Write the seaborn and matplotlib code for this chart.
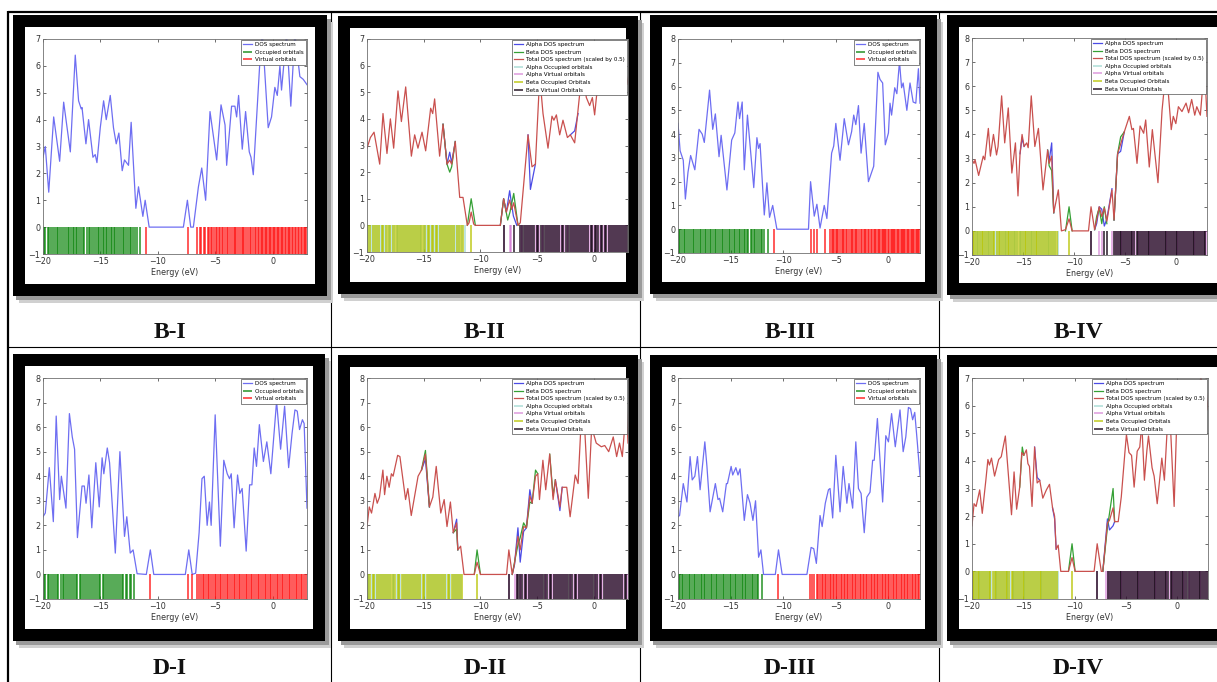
import matplotlib
matplotlib.use("Agg")
import matplotlib.pyplot as plt
from matplotlib.patches import Rectangle
from matplotlib.lines import Line2D
import pandas as pd
import seaborn as sns

W, H = 1217, 682

# ---------------- data ----------------
# B-I
bi_dos = [(-20.0, 2.6), (-19.8, 3.0), (-19.5, 1.3), (-19.07, 4.1), (-18.55, 2.45), (-18.2, 4.65), (-17.62, 2.8),
          (-17.19, 6.4), (-16.9, 4.7), (-16.67, 4.4), (-16.6, 4.45), (-16.26, 3.1), (-16.03, 4.0), (-15.65, 2.6),
          (-15.45, 2.7), (-15.3, 2.4), (-15.01, 3.7), (-14.72, 4.7), (-14.49, 4.0), (-14.14, 4.9), (-13.86, 3.7),
          (-13.62, 3.1), (-13.39, 3.5), (-13.1, 2.1), (-12.9, 2.5), (-12.55, 2.3), (-12.32, 3.9), (-11.91, 0.7),
          (-11.68, 1.5), (-11.3, 0.4), (-11.1, 1.0), (-10.75, 0.0), (-7.77, 0.0), (-7.42, 1.0), (-7.13, 0.0),
          (-6.9, 0.0), (-6.46, 1.5), (-6.17, 2.2), (-5.83, 1.0), (-5.45, 4.3), (-4.87, 2.5), (-4.49, 4.55),
          (-4.14, 3.8), (-4.0, 2.3), (-3.57, 4.5), (-3.28, 4.5), (-3.13, 4.1), (-2.96, 4.9), (-2.64, 2.9),
          (-2.35, 4.3), (-2.03, 2.8), (-1.88, 2.6), (-1.68, 1.95), (-1.1, 6.2), (-0.9, 7.3), (-0.38, 3.7),
          (-0.09, 4.1), (0.2, 5.2), (0.41, 4.9), (0.64, 6.0), (0.78, 5.1), (1.22, 7.2), (1.59, 4.5), (1.94, 7.2),
          (2.38, 5.6), (2.67, 5.5), (3.0, 5.3)]
bi_occ = [-19.95, -19.8, -19.6, -19.45, -19.3, -19.15, -18.95, -18.8, -18.7, -18.5, -18.35, -18.2, -18.0, -17.85,
          -17.7, -17.55, -17.4, -17.3, -17.15, -17.0, -16.9, -16.7, -16.55, -16.4, -16.2, -16.0, -15.9, -15.75,
          -15.6, -15.4, -15.25, -15.1, -14.95, -14.8, -14.7, -14.55, -14.4, -14.25, -14.1, -14.0, -13.85, -13.7,
          -13.55, -13.4, -13.2, -13.05, -12.9, -12.75, -12.6, -12.45, -12.3, -12.15, -11.95, -11.8, -11.55]
bi_virt = [-11.05, -7.4, -6.55, -6.35, -6.2, -6.0, -5.85, -5.65, -5.5, -5.4, -5.25, -5.1, -4.95, -4.8, -4.7, -4.55,
           -4.4, -4.3, -4.15, -4.0, -3.85, -3.7, -3.55, -3.4, -3.3, -3.15, -3.0, -2.85, -2.7, -2.55, -2.45, -2.3,
           -2.15, -2.0, -1.85, -1.7, -1.55, -1.4, -1.3, -1.2, -1.05, -0.95, -0.85, -0.7, -0.6, -0.5, -0.35, -0.25,
           -0.1, 0.0, 0.15, 0.25, 0.35, 0.5, 0.6, 0.75, 0.85, 0.95, 1.1, 1.2, 1.35, 1.45, 1.55, 1.7, 1.8, 1.95,
           2.05, 2.2, 2.3, 2.45, 2.55, 2.7, 2.8, 2.95]

# B-II
bii_total = [(-20.0, 2.9), (-19.7, 3.3), (-19.38, 3.5), (-18.88, 2.3), (-18.59, 4.2), (-18.24, 2.7), (-17.94, 4.0),
             (-17.65, 2.9), (-17.27, 5.05), (-16.97, 3.9), (-16.59, 5.2), (-16.09, 2.6), (-15.8, 3.4), (-15.51, 2.9),
             (-15.15, 3.5), (-14.83, 2.8), (-14.39, 4.4), (-14.21, 4.2), (-14.04, 4.75), (-13.6, 2.6), (-13.3, 3.8),
             (-12.95, 2.3), (-12.71, 2.45), (-12.54, 2.3), (-12.22, 3.15), (-11.83, 1.05), (-11.54, 1.05),
             (-11.16, 0.0), (-11.0, 0.1), (-10.82, 0.5), (-10.6, 0.05), (-10.45, 0.0), (-8.25, 0.0), (-7.96, 1.0),
             (-7.72, 0.5), (-7.43, 0.95), (-7.25, 0.6), (-7.07, 0.85), (-6.69, 0.0), (-6.49, 0.1), (-5.81, 3.4),
             (-5.46, 2.2), (-5.16, 2.3), (-4.78, 5.6), (-4.49, 4.2), (-4.05, 2.9), (-3.7, 4.1), (-3.53, 3.95),
             (-3.31, 4.15), (-3.02, 3.4), (-2.73, 3.95), (-2.34, 3.3), (-2.08, 3.4), (-1.7, 3.1), (-1.05, 5.8),
             (-0.67, 4.8), (-0.38, 4.5), (-0.14, 4.8), (0.06, 4.15), (0.5, 6.0), (1.09, 5.6), (1.68, 6.2),
             (2.12, 5.5), (2.56, 6.3), (3.0, 5.3)]
bii_alpha = [[(-13.3, 3.8), (-12.95, 2.3), (-12.71, 2.75), (-12.54, 2.35), (-12.22, 3.15)],
             [(-8.25, 0.0), (-7.96, 1.0), (-7.72, 0.5), (-7.43, 1.3), (-7.1, 0.35), (-6.8, 0.0)],
             [(-5.81, 3.4), (-5.6, 1.35), (-5.16, 2.3)],
             [(-2.08, 3.4), (-1.7, 3.55), (-1.4, 4.2)]]
bii_beta = [[(-13.3, 3.8), (-12.95, 2.3), (-12.71, 2.0), (-12.54, 2.2), (-12.22, 3.15)],
            [(-11.16, 0.0), (-10.82, 1.0), (-10.45, 0.0)],
            [(-8.25, 0.0), (-7.96, 1.0), (-7.6, 0.2), (-7.4, 0.5), (-7.07, 1.2), (-6.69, 0.0)]]
bii_a_occ = [-19.9, -19.7, -19.55, -19.35, -19.2, -19.0, -18.85, -18.65, -18.5, -18.3, -18.1, -17.95, -17.8, -17.6,
             -17.4, -17.3, -17.1, -16.95, -16.75, -16.6, -16.4, -16.2, -16.05, -15.9, -15.7, -15.5, -15.35, -15.2,
             -15.0, -14.85, -14.7, -14.5, -14.35, -14.2, -14.0, -13.85, -13.65, -13.5, -13.3, -13.15, -12.95, -12.8,
             -12.6, -12.4, -12.25, -12.05, -11.85, -11.6, -11.35]
bii_b_occ = [-19.95, -19.75, -19.5, -19.3, -19.1, -18.9, -18.7, -18.55, -18.35, -18.15, -17.95, -17.75, -17.55,
             -17.4, -17.2, -17.0, -16.85, -16.65, -16.5, -16.3, -16.1, -15.95, -15.75, -15.55, -15.4, -15.2, -15.05,
             -14.85, -14.65, -14.5, -14.3, -14.15, -13.95, -13.8, -13.6, -13.4, -13.25, -13.05, -12.85, -12.7, -12.5,
             -12.3, -12.1, -11.9, -11.7, -11.5, -10.82]
bii_a_virt = [-7.96, -7.43, -7.3, -6.45, -6.3, -6.1, -5.9, -5.75, -5.55, -5.35, -5.15, -5.0, -4.8, -4.6, -4.45,
              -4.25, -4.05, -3.9, -3.7, -3.5, -3.35, -3.15, -2.95, -2.8, -2.6, -2.4, -2.25, -2.05, -1.85, -1.7, -1.5,
              -1.3, -1.15, -0.95, -0.8, -0.6, -0.4, -0.25, -0.05, 0.1, 0.3, 0.5, 0.65, 0.85, 1.0, 1.2, 1.4, 1.55,
              1.75, 1.9, 2.1, 2.3, 2.45, 2.65, 2.85]
bii_b_virt = [-7.96, -7.07, -6.55, -6.35, -6.2, -6.0, -5.8, -5.6, -5.45, -5.25, -5.05, -4.9, -4.7, -4.5, -4.35,
              -4.15, -3.95, -3.8, -3.6, -3.4, -3.25, -3.05, -2.85, -2.7, -2.5, -2.3, -2.15, -1.95, -1.75, -1.6, -1.4,
              -1.2, -1.05, -0.85, -0.7, -0.5, -0.3, -0.15, 0.05, 0.2, 0.4, 0.6, 0.75, 0.95, 1.1, 1.3, 1.5, 1.65,
              1.85, 2.0, 2.2, 2.4, 2.55, 2.75, 2.95]

# B-III
biii_dos = [(-20.0, 4.45), (-19.8, 3.3), (-19.5, 2.9), (-19.3, 1.27), (-19.05, 2.4), (-18.8, 3.1), (-18.4, 2.5),
            (-18.0, 4.2), (-17.7, 4.0), (-17.5, 3.65), (-17.0, 5.85), (-16.7, 4.2), (-16.45, 4.85), (-16.1, 3.05),
            (-15.9, 3.95), (-15.35, 1.65), (-14.9, 3.75), (-14.6, 4.05), (-14.3, 5.35), (-14.15, 4.65),
            (-13.9, 5.35), (-13.7, 2.5), (-13.4, 4.8), (-12.8, 1.75), (-12.5, 3.85), (-12.35, 3.4), (-12.2, 3.6),
            (-11.8, 0.6), (-11.55, 1.95), (-11.3, 0.5), (-11.0, 1.0), (-10.6, 0.0), (-7.6, 0.0), (-7.4, 2.0),
            (-7.05, 0.55), (-6.8, 1.05), (-6.5, 0.05), (-6.1, 1.0), (-5.85, 0.45), (-5.4, 3.2), (-5.2, 3.5),
            (-5.0, 4.45), (-4.6, 2.9), (-4.2, 4.65), (-3.8, 3.55), (-3.5, 4.1), (-3.3, 4.8), (-3.1, 4.4),
            (-2.85, 5.2), (-2.6, 3.2), (-2.3, 4.45), (-1.9, 2.0), (-1.4, 2.65), (-1.0, 6.6), (-0.8, 6.3),
            (-0.55, 6.15), (-0.3, 3.55), (0.0, 4.05), (0.15, 5.3), (0.3, 4.8), (0.6, 5.95), (0.8, 5.7),
            (1.05, 7.05), (1.25, 5.95), (1.4, 6.15), (1.75, 5.0), (2.05, 6.15), (2.35, 5.35), (2.6, 5.3),
            (2.85, 6.75), (3.0, 5.3)]
biii_occ = [-19.95, -19.8, -19.65, -19.45, -19.3, -19.1, -18.95, -18.8, -18.6, -18.45, -18.3, -18.1, -17.95, -17.8,
            -17.65, -17.45, -17.3, -17.15, -17.0, -16.85, -16.65, -16.5, -16.35, -16.2, -16.0, -15.85, -15.7, -15.5,
            -15.35, -15.2, -15.05, -14.9, -14.7, -14.55, -14.4, -14.25, -14.1, -13.9, -13.75, -13.6, -13.45, -13.3,
            -13.1, -12.95, -12.8, -12.65, -12.5, -12.3, -12.15, -12.0, -11.8, -11.4]
biii_virt = [-10.9, -7.4, -7.1, -6.8, -6.0, -5.55, -5.4, -5.3, -5.15, -5.0, -4.85, -4.75, -4.6, -4.45, -4.3, -4.2,
             -4.05, -3.9, -3.75, -3.6, -3.5, -3.35, -3.2, -3.05, -2.95, -2.8, -2.65, -2.5, -2.35, -2.25, -2.1, -1.95,
             -1.8, -1.7, -1.55, -1.4, -1.25, -1.15, -1.0, -0.9, -0.8, -0.65, -0.55, -0.45, -0.3, -0.2, -0.05, 0.05,
             0.2, 0.3, 0.4, 0.55, 0.65, 0.8, 0.9, 1.0, 1.15, 1.25, 1.4, 1.5, 1.6, 1.75, 1.85, 2.0, 2.1, 2.2, 2.35,
             2.45, 2.6, 2.7, 2.85, 2.95]

# B-IV
biv_total = [(-20.0, 2.95), (-19.8, 2.8), (-19.7, 2.95), (-19.35, 2.3), (-18.9, 3.1), (-18.75, 2.95), (-18.4, 4.25),
             (-18.2, 3.1), (-17.9, 4.0), (-17.6, 3.15), (-17.45, 3.5), (-17.1, 5.6), (-16.8, 3.65), (-16.45, 5.1),
             (-16.1, 2.4), (-15.75, 3.65), (-15.5, 1.45), (-15.3, 3.2), (-15.1, 4.0), (-14.9, 3.5), (-14.65, 3.65),
             (-14.5, 3.45), (-14.2, 5.6), (-13.85, 3.5), (-13.5, 4.25), (-13.05, 1.7), (-12.6, 3.35), (-12.45, 2.8),
             (-12.2, 3.1), (-12.0, 0.75), (-11.55, 1.7), (-11.25, 0.0), (-10.85, 0.05), (-10.5, 0.5), (-10.2, 0.0),
             (-8.6, 0.0), (-8.35, 1.0), (-8.0, 0.05), (-7.8, 0.45), (-7.55, 1.0), (-7.3, 0.6), (-7.05, 0.95),
             (-6.8, 0.4), (-6.3, 1.7), (-6.1, 0.45), (-5.75, 3.2), (-5.45, 3.6), (-5.1, 4.1), (-4.6, 4.75),
             (-4.35, 4.2), (-4.2, 4.25), (-3.85, 2.8), (-3.55, 4.35), (-3.2, 4.05), (-3.0, 4.6), (-2.65, 2.65),
             (-2.35, 4.2), (-1.8, 2.0), (-1.4, 5.0), (-1.1, 6.3), (-0.8, 5.8), (-0.5, 4.2), (-0.3, 4.75),
             (-0.05, 4.45), (0.2, 5.15), (0.55, 4.95), (0.95, 5.3), (1.2, 4.9), (1.5, 5.45), (1.8, 4.8), (2.0, 5.15),
             (2.35, 4.8), (2.75, 6.9), (3.0, 4.75)]
biv_alpha = [[(-15.3, 3.2), (-15.1, 3.85), (-14.9, 3.5)],
             [(-12.6, 3.35), (-12.45, 2.9), (-12.2, 3.65), (-12.0, 0.75)],
             [(-8.0, 0.05), (-7.8, 0.3), (-7.55, 1.0), (-7.3, 0.9), (-7.05, 0.2), (-6.8, 0.5), (-6.3, 1.75)],
             [(-6.1, 0.45), (-5.75, 3.2), (-5.45, 3.3), (-5.1, 4.1)]]
biv_beta = [[(-12.6, 3.35), (-12.45, 2.7), (-12.2, 2.5), (-12.0, 0.75)],
            [(-10.85, 0.0), (-10.5, 1.0), (-10.2, 0.0)],
            [(-8.0, 0.05), (-7.8, 0.6), (-7.55, 0.95), (-7.3, 0.3), (-7.05, 1.0), (-6.8, 0.3)],
            [(-6.1, 0.45), (-5.75, 3.2), (-5.45, 3.9), (-5.1, 4.1)]]
biv_a_occ = [-19.9, -19.75, -19.55, -19.4, -19.2, -19.0, -18.85, -18.65, -18.45, -18.3, -18.1, -17.9, -17.75,
             -17.55, -17.35, -17.2, -17.0, -16.8, -16.65, -16.45, -16.3, -16.1, -15.9, -15.75, -15.55, -15.35, -15.2,
             -15.0, -14.8, -14.65, -14.45, -14.25, -14.1, -13.9, -13.7, -13.55, -13.35, -13.15, -13.0, -12.8, -12.6,
             -12.45, -12.25, -12.05, -11.85, -11.6]
biv_b_occ = [-19.95, -19.8, -19.6, -19.45, -19.25, -19.05, -18.9, -18.7, -18.5, -18.35, -18.15, -17.95, -17.8,
             -17.6, -17.4, -17.25, -17.05, -16.85, -16.7, -16.5, -16.35, -16.15, -15.95, -15.8, -15.6, -15.4, -15.25,
             -15.05, -14.85, -14.7, -14.5, -14.3, -14.15, -13.95, -13.75, -13.6, -13.4, -13.2, -13.05, -12.85,
             -12.65, -12.5, -12.3, -12.1, -11.9, -11.65, -10.5]
biv_a_virt = [-8.35, -7.55, -7.3, -6.3, -6.0, -5.85, -5.65, -5.45, -5.3, -5.1, -4.9, -4.75, -4.55, -4.35, -4.2,
              -4.0, -3.8, -3.65, -3.45, -3.25, -3.1, -2.9, -2.7, -2.55, -2.35, -2.15, -2.0, -1.8, -1.6, -1.45, -1.25,
              -1.05, -0.9, -0.7, -0.5, -0.35, -0.15, 0.05, 0.2, 0.4, 0.6, 0.75, 0.95, 1.15, 1.3, 1.5, 1.7, 1.85,
              2.05, 2.25, 2.4, 2.6, 2.8, 2.95]
biv_b_virt = [-8.35, -7.05, -6.8, -6.1, -5.95, -5.75, -5.55, -5.4, -5.2, -5.0, -4.85, -4.65, -4.45, -4.3, -4.1,
              -3.9, -3.75, -3.55, -3.35, -3.2, -3.0, -2.8, -2.65, -2.45, -2.25, -2.1, -1.9, -1.7, -1.55, -1.35,
              -1.15, -1.0, -0.8, -0.6, -0.45, -0.25, -0.05, 0.1, 0.3, 0.5, 0.65, 0.85, 1.05, 1.2, 1.4, 1.6, 1.75,
              1.95, 2.15, 2.3, 2.5, 2.7, 2.85]

# D-I
di_dos = [(-20.0, 2.35), (-19.8, 2.5), (-19.45, 4.35), (-19.1, 2.15), (-18.85, 6.45), (-18.55, 3.05), (-18.4, 4.0),
          (-18.0, 2.7), (-17.7, 6.55), (-17.45, 5.6), (-17.25, 5.1), (-17.0, 1.5), (-16.6, 3.6), (-16.4, 3.6),
          (-16.25, 2.9), (-16.0, 4.05), (-15.75, 1.9), (-15.4, 4.55), (-15.1, 2.75), (-14.85, 4.75), (-14.7, 4.1),
          (-14.4, 5.15), (-14.2, 4.55), (-13.7, 0.87), (-13.3, 5.0), (-12.9, 1.55), (-12.7, 2.35), (-12.4, 0.87),
          (-12.15, 1.0), (-11.8, 0.03), (-11.0, 0.0), (-10.65, 1.0), (-10.35, 0.0), (-7.6, 0.0), (-7.3, 1.0),
          (-7.0, 0.0), (-6.7, 0.05), (-6.4, 1.7), (-6.15, 3.9), (-5.95, 4.0), (-5.7, 2.0), (-5.5, 2.95),
          (-5.35, 2.0), (-5.0, 6.5), (-4.55, 1.15), (-4.25, 4.65), (-3.95, 4.1), (-3.75, 3.9), (-3.6, 4.1),
          (-3.35, 1.9), (-3.05, 4.05), (-2.85, 3.3), (-2.65, 3.5), (-2.3, 0.95), (-2.0, 3.65), (-1.8, 3.65),
          (-1.6, 5.15), (-1.4, 4.4), (-1.15, 6.1), (-0.8, 4.6), (-0.5, 5.4), (-0.15, 4.1), (0.35, 7.05),
          (0.7, 5.1), (1.05, 6.85), (1.4, 4.35), (1.7, 5.75), (1.95, 6.7), (2.15, 6.65), (2.35, 5.9), (2.6, 6.3),
          (2.75, 6.15), (3.0, 2.7)]
di_occ = [-19.95, -19.8, -19.6, -19.45, -19.3, -19.15, -18.95, -18.8, -18.65, -18.45, -18.3, -18.15, -18.0, -17.8,
          -17.65, -17.5, -17.3, -17.15, -17.0, -16.8, -16.65, -16.5, -16.3, -16.15, -16.0, -15.8, -15.65, -15.5,
          -15.3, -15.15, -15.0, -14.8, -14.65, -14.5, -14.3, -14.15, -14.0, -13.8, -13.65, -13.5, -13.3, -13.15,
          -13.0, -12.8, -12.65, -12.45, -12.3, -12.1]
di_virt = [-10.65, -7.35, -7.05, -6.55, -6.4, -6.25, -6.1, -5.95, -5.8, -5.65, -5.5, -5.35, -5.2, -5.05, -4.9,
           -4.75, -4.6, -4.45, -4.3, -4.15, -4.0, -3.85, -3.7, -3.55, -3.4, -3.25, -3.1, -2.95, -2.8, -2.65, -2.5,
           -2.35, -2.2, -2.05, -1.9, -1.75, -1.6, -1.45, -1.3, -1.15, -1.0, -0.85, -0.7, -0.55, -0.4, -0.25, -0.1,
           0.05, 0.2, 0.35, 0.5, 0.65, 0.8, 0.95, 1.1, 1.25, 1.4, 1.55, 1.7, 1.85, 2.0, 2.15, 2.3, 2.45, 2.6,
           2.75, 2.9]

# D-II
dii_total = [(-20.0, 1.95), (-19.8, 2.75), (-19.6, 2.5), (-19.3, 3.3), (-19.1, 2.9), (-18.9, 3.15), (-18.6, 4.25),
             (-18.45, 3.25), (-18.25, 4.0), (-18.05, 3.55), (-17.85, 4.1), (-17.7, 4.0), (-17.3, 4.85),
             (-17.1, 4.8), (-16.6, 3.05), (-16.4, 3.5), (-16.1, 2.4), (-15.5, 4.0), (-15.2, 4.25), (-14.85, 4.9),
             (-14.5, 2.75), (-14.2, 3.15), (-13.9, 4.4), (-13.5, 2.5), (-13.2, 3.05), (-12.95, 1.95),
             (-12.65, 2.95), (-12.4, 1.7), (-12.1, 2.1), (-12.0, 1.0), (-11.75, 1.15), (-11.45, 0.0),
             (-10.55, 0.0), (-10.3, 0.5), (-10.0, 0.0), (-7.7, 0.0), (-7.5, 1.0), (-7.2, 0.0), (-7.0, 0.45),
             (-6.7, 1.55), (-6.5, 1.0), (-6.2, 1.95), (-5.95, 1.9), (-5.65, 3.2), (-5.45, 2.9), (-5.15, 4.0),
             (-4.95, 4.1), (-4.8, 3.05), (-4.5, 4.65), (-4.25, 3.45), (-3.9, 4.9), (-3.6, 3.05), (-3.4, 3.85),
             (-3.0, 2.75), (-2.8, 3.55), (-2.4, 3.55), (-2.1, 2.35), (-1.65, 4.05), (-1.4, 3.7), (-1.1, 6.5),
             (-0.8, 5.8), (-0.5, 3.1), (-0.2, 6.0), (0.2, 5.35), (0.65, 5.2), (0.95, 5.25), (1.3, 5.0), (1.7, 5.6),
             (2.0, 4.8), (2.25, 5.35), (2.5, 4.8), (2.85, 6.8), (3.0, 5.35)]
dii_alpha = [[(-15.2, 4.25), (-14.85, 4.7), (-14.5, 2.75)],
             [(-12.4, 1.7), (-12.1, 2.25), (-12.0, 1.0)],
             [(-7.2, 0.0), (-7.0, 0.4), (-6.7, 1.9), (-6.5, 0.5), (-6.2, 1.75), (-5.95, 1.9), (-5.65, 3.45),
              (-5.45, 2.9)],
             [(-3.4, 3.85), (-3.0, 2.6), (-2.8, 3.55)]]
dii_beta = [[(-15.2, 4.25), (-14.85, 5.05), (-14.5, 2.75)],
            [(-12.4, 1.7), (-12.1, 1.85), (-12.0, 1.0)],
            [(-10.55, 0.0), (-10.3, 1.0), (-10.0, 0.0)],
            [(-7.2, 0.0), (-7.0, 0.5), (-6.7, 1.2), (-6.5, 1.5), (-6.2, 2.1), (-5.95, 1.9), (-5.65, 2.95),
             (-5.45, 2.9), (-5.15, 4.25), (-4.95, 4.1)],
            [(-3.9, 4.9), (-3.6, 3.2), (-3.4, 3.85)]]
dii_a_occ = [-19.95, -19.8, -19.6, -19.4, -19.25, -19.05, -18.85, -18.7, -18.5, -18.3, -18.15, -17.95, -17.75,
             -17.6, -17.4, -17.2, -17.05, -16.85, -16.65, -16.5, -16.3, -16.1, -15.95, -15.75, -15.55, -15.4, -15.2,
             -15.0, -14.85, -14.65, -14.45, -14.3, -14.1, -13.9, -13.75, -13.55, -13.35, -13.2, -13.0, -12.8,
             -12.65, -12.45, -12.25, -12.1, -11.9, -11.75]
dii_b_occ = [-19.9, -19.7, -19.5, -19.35, -19.15, -18.95, -18.8, -18.6, -18.4, -18.25, -18.05, -17.85, -17.7,
             -17.5, -17.3, -17.15, -16.95, -16.75, -16.6, -16.4, -16.2, -16.05, -15.85, -15.65, -15.5, -15.3, -15.1,
             -14.95, -14.75, -14.55, -14.4, -14.2, -14.0, -13.85, -13.65, -13.45, -13.3, -13.1, -12.9, -12.75,
             -12.55, -12.35, -12.2, -12.0, -11.8, -11.65, -10.3]
dii_a_virt = [-7.5, -6.95, -6.75, -6.55, -6.4, -6.2, -6.0, -5.85, -5.65, -5.45, -5.3, -5.1, -4.9, -4.75, -4.55,
              -4.35, -4.2, -4.0, -3.8, -3.65, -3.45, -3.25, -3.1, -2.9, -2.7, -2.55, -2.35, -2.15, -2.0, -1.8, -1.6,
              -1.45, -1.25, -1.05, -0.9, -0.7, -0.5, -0.35, -0.15, 0.05, 0.2, 0.4, 0.6, 0.75, 0.95, 1.15, 1.3, 1.5,
              1.7, 1.85, 2.05, 2.25, 2.4, 2.6, 2.8, 2.95]
dii_b_virt = [-7.5, -6.8, -6.65, -6.5, -6.3, -6.1, -5.95, -5.75, -5.55, -5.4, -5.2, -5.0, -4.85, -4.65, -4.45,
              -4.3, -4.1, -3.9, -3.75, -3.55, -3.35, -3.2, -3.0, -2.8, -2.65, -2.45, -2.25, -2.1, -1.9, -1.7, -1.55,
              -1.35, -1.15, -1.0, -0.8, -0.6, -0.45, -0.25, -0.05, 0.1, 0.3, 0.5, 0.65, 0.85, 1.05, 1.2, 1.4, 1.6,
              1.75, 1.95, 2.15, 2.3, 2.5, 2.7, 2.85]

# D-III
diii_dos = [(-20.0, 2.35), (-19.85, 2.4), (-19.5, 3.7), (-19.15, 2.95), (-18.85, 4.8), (-18.65, 3.85), (-18.4, 4.0),
            (-18.15, 4.8), (-17.9, 3.45), (-17.45, 5.4), (-17.25, 4.4), (-16.95, 2.55), (-16.45, 3.7),
            (-16.2, 3.05), (-16.05, 3.1), (-15.75, 2.55), (-15.4, 3.7), (-15.3, 3.7), (-14.95, 4.4), (-14.8, 4.05),
            (-14.5, 4.35), (-14.3, 4.05), (-14.1, 4.3), (-13.7, 2.2), (-13.4, 3.25), (-13.15, 2.9), (-12.88, 2.2),
            (-12.63, 3.0), (-12.34, 0.7), (-12.12, 1.0), (-11.87, 0.0), (-10.75, 0.0), (-10.45, 1.0), (-10.1, 0.0),
            (-7.75, 0.0), (-7.35, 1.1), (-7.1, 1.05), (-6.85, 0.45), (-6.5, 2.4), (-6.3, 1.95), (-6.0, 2.9),
            (-5.7, 3.45), (-5.55, 3.5), (-5.3, 2.3), (-5.0, 4.85), (-4.6, 2.55), (-4.3, 4.4), (-3.95, 2.9),
            (-3.75, 3.7), (-3.4, 2.7), (-3.1, 5.4), (-2.85, 3.5), (-2.6, 3.3), (-2.3, 1.7), (-2.05, 3.15),
            (-1.75, 3.35), (-1.5, 4.65), (-1.35, 4.65), (-1.05, 6.35), (-0.55, 2.95), (-0.25, 5.65), (0.0, 5.4),
            (0.3, 6.55), (0.65, 5.2), (1.1, 6.7), (1.4, 5.0), (1.65, 5.6), (1.9, 6.8), (2.1, 6.75), (2.3, 6.3),
            (2.5, 6.6), (2.75, 5.35), (3.0, 4.0)]
diii_occ = [-19.95, -19.8, -19.65, -19.5, -19.3, -19.15, -19.0, -18.85, -18.7, -18.5, -18.35, -18.2, -18.05, -17.85,
            -17.7, -17.55, -17.4, -17.2, -17.05, -16.9, -16.75, -16.55, -16.4, -16.25, -16.1, -15.9, -15.75, -15.6,
            -15.45, -15.25, -15.1, -14.95, -14.8, -14.6, -14.45, -14.3, -14.15, -13.95, -13.8, -13.65, -13.5, -13.3,
            -13.15, -13.0, -12.85, -12.65, -12.5, -12.35, -12.0]
diii_virt = [-10.45, -7.45, -7.3, -7.1, -6.8, -6.65, -6.5, -6.35, -6.2, -6.05, -5.9, -5.75, -5.6, -5.45, -5.3,
             -5.15, -5.0, -4.85, -4.7, -4.55, -4.4, -4.25, -4.1, -3.95, -3.8, -3.65, -3.5, -3.35, -3.2, -3.05, -2.9,
             -2.75, -2.6, -2.45, -2.3, -2.15, -2.0, -1.85, -1.7, -1.55, -1.4, -1.25, -1.1, -0.95, -0.8, -0.65, -0.5,
             -0.35, -0.2, -0.05, 0.1, 0.25, 0.4, 0.55, 0.7, 0.85, 1.0, 1.15, 1.3, 1.45, 1.6, 1.75, 1.9, 2.05, 2.2,
             2.35, 2.5, 2.65, 2.8, 2.95]

# D-IV
div_total = [(-20.0, 1.65), (-19.8, 2.45), (-19.6, 2.35), (-19.25, 2.95), (-19.0, 2.1), (-18.65, 3.3),
             (-18.45, 4.05), (-18.3, 3.85), (-18.1, 4.1), (-17.8, 3.45), (-17.4, 4.05), (-17.15, 4.15),
             (-16.75, 4.9), (-16.15, 2.05), (-15.9, 3.6), (-15.65, 2.25), (-15.35, 3.05), (-15.15, 4.3),
             (-14.95, 4.2), (-14.7, 4.4), (-14.55, 3.9), (-14.4, 3.8), (-14.15, 2.35), (-13.9, 4.5), (-13.65, 3.2),
             (-13.4, 3.3), (-13.1, 2.65), (-12.75, 2.95), (-12.45, 3.15), (-12.15, 2.3), (-11.95, 2.0),
             (-11.8, 0.8), (-11.6, 0.95), (-11.35, 0.0), (-10.6, 0.0), (-10.25, 0.5), (-9.95, 0.0), (-8.1, 0.0),
             (-7.8, 1.0), (-7.4, 0.0), (-7.25, 0.0), (-6.8, 1.75), (-6.6, 1.85), (-6.25, 2.3), (-6.1, 1.8),
             (-5.75, 1.8), (-5.45, 2.7), (-5.1, 4.3), (-4.95, 4.95), (-4.7, 4.3), (-4.45, 4.2), (-4.2, 3.05),
             (-3.9, 4.35), (-3.65, 4.5), (-3.45, 5.35), (-3.2, 3.3), (-2.95, 4.4), (-2.8, 4.9), (-2.45, 3.75),
             (-2.25, 3.45), (-1.95, 2.45), (-1.5, 4.1), (-1.25, 3.3), (-1.0, 5.0), (-0.75, 6.0), (-0.3, 2.35),
             (0.0, 6.0), (0.5, 6.5), (1.0, 6.0), (1.5, 6.8), (2.0, 6.5), (2.3, 7.0), (2.85, 6.45), (3.0, 5.85)]
div_alpha = [[(-13.9, 4.5), (-13.65, 3.4), (-13.4, 3.3)],
             [(-12.15, 2.3), (-11.95, 1.9), (-11.8, 0.8)],
             [(-7.25, 0.0), (-6.8, 1.9), (-6.6, 1.5), (-6.25, 1.65), (-6.1, 1.8)]]
div_beta = [[(-15.35, 3.05), (-15.1, 4.5), (-14.95, 4.2)],
            [(-10.6, 0.0), (-10.25, 1.0), (-9.95, 0.0)],
            [(-7.25, 0.0), (-6.8, 1.6), (-6.6, 2.1), (-6.25, 3.0), (-6.1, 1.8)]]
div_a_occ = [-19.9, -19.75, -19.55, -19.35, -19.2, -19.0, -18.8, -18.65, -18.45, -18.25, -18.1, -17.9, -17.7,
             -17.55, -17.35, -17.15, -17.0, -16.8, -16.6, -16.45, -16.25, -16.05, -15.9, -15.7, -15.5, -15.35,
             -15.15, -14.95, -14.8, -14.6, -14.4, -14.25, -14.05, -13.85, -13.7, -13.5, -13.3, -13.15, -12.95,
             -12.75, -12.6, -12.4, -12.2, -12.05, -11.85, -11.6]
div_b_occ = [-19.95, -19.8, -19.65, -19.45, -19.3, -19.1, -18.9, -18.75, -18.55, -18.35, -18.2, -18.0, -17.8,
             -17.65, -17.45, -17.25, -17.1, -16.9, -16.7, -16.55, -16.35, -16.15, -16.0, -15.8, -15.6, -15.45,
             -15.25, -15.05, -14.9, -14.7, -14.5, -14.35, -14.15, -13.95, -13.8, -13.6, -13.4, -13.25, -13.05,
             -12.85, -12.7, -12.5, -12.3, -12.15, -11.95, -11.7, -10.25]
div_a_virt = [-7.8, -6.9, -6.75, -6.6, -6.45, -6.25, -6.05, -5.9, -5.7, -5.5, -5.35, -5.15, -4.95, -4.8, -4.6,
              -4.4, -4.25, -4.05, -3.85, -3.7, -3.5, -3.3, -3.15, -2.95, -2.75, -2.6, -2.4, -2.2, -2.05, -1.85, -1.65,
              -1.5, -1.3, -1.1, -0.95, -0.75, -0.55, -0.4, -0.2, 0.0, 0.15, 0.35, 0.55, 0.7, 0.9, 1.1, 1.25, 1.45,
              1.65, 1.8, 2.0, 2.2, 2.35, 2.55, 2.75, 2.9]
div_b_virt = [-7.8, -6.7, -6.55, -6.35, -6.15, -6.0, -5.8, -5.6, -5.45, -5.25, -5.05, -4.9, -4.7, -4.5, -4.35,
              -4.15, -3.95, -3.8, -3.6, -3.4, -3.25, -3.05, -2.85, -2.7, -2.5, -2.3, -2.15, -1.95, -1.75, -1.6, -1.4,
              -1.2, -1.05, -0.85, -0.65, -0.5, -0.3, -0.1, 0.05, 0.25, 0.45, 0.6, 0.8, 1.0, 1.15, 1.35, 1.55, 1.7,
              1.9, 2.1, 2.25, 2.45, 2.65, 2.8, 2.98]

panel_labels = ["B-I", "B-II", "B-III", "B-IV", "D-I", "D-II", "D-III", "D-IV"]
y_tops = [7, 7, 8, 8, 8, 8, 8, 7]
x_ticks = [-20, -15, -10, -5, 0]

single_labels = ["DOS spectrum", "Occupied orbitals", "Virtual orbitals"]
double_labels = ["Alpha DOS spectrum", "Beta DOS spectrum", "Total DOS spectrum (scaled by 0.5)",
                 "Alpha Occupied orbitals", "Alpha Virtual orbitals", "Beta Occupied Orbitals",
                 "Beta Virtual Orbitals"]

# ---------------- layout (pixels) ----------------
frames_px = [(13, 15, 327, 296), (338, 16, 638, 294), (650, 15, 937, 294), (947, 15, 1232, 295),
             (13, 354, 325, 641), (338, 355, 638, 641), (650, 355, 937, 641), (947, 355, 1232, 641)]
axes_px = [(43, 39, 307, 254), (367, 39, 628, 252), (678, 39, 920, 253), (972, 38, 1207, 255),
           (43, 378, 307, 599), (367, 378, 628, 599), (678, 378, 920, 599), (972, 378, 1208, 599)]
label_px = [(170, 333), (485, 333), (790, 333), (1078, 333), (170, 668), (485, 668), (790, 668), (1078, 668)]

plt.rcParams["font.family"] = ["DejaVu Sans"]
fig = plt.figure(figsize=(W / 100, H / 100), dpi=100)
fig.patch.set_facecolor("white")


def fig_rect(x0, y0, x1, y1, **kw):
    r = Rectangle((x0 / W, 1 - y1 / H), (x1 - x0) / W, (y1 - y0) / H,
                  transform=fig.transFigure, **kw)
    fig.add_artist(r)


def fig_line(xs, ys, lw):
    fig.add_artist(Line2D([x / W for x in xs], [1 - y / H for y in ys], transform=fig.transFigure,
                          color="black", lw=lw, zorder=-10, solid_capstyle="butt"))


# table lines
fig_line([8, 1217], [12, 12], 1.6)
fig_line([8, 8], [11, 682], 1.6)
for xv in (331, 640, 939):
    fig_line([xv, xv], [12, 682], 0.8)
fig_line([8, 1217], [347, 347], 0.8)

# frames with shadows
for (x0, y0, x1, y1) in frames_px:
    fig_rect(x0 + 6, y0 + 7, x1 + 6, y1 + 7, facecolor="#d0d0d0", edgecolor="none", zorder=-9)
    fig_rect(x0 + 3, y0 + 4, x1 + 4, y1 + 4, facecolor="#9a9a9a", edgecolor="none", zorder=-8)
    fig_rect(x0, y0, x1, y1, facecolor="black", edgecolor="none", zorder=-7)
    fig_rect(x0 + 12, y0 + 12, x1 - 12, y1 - 12, facecolor="white", edgecolor="none", zorder=-6)

DOS_BLUE = "#6e6ef2"
OCC_GREEN = "#0a840a"
VIRT_RED = "#ff1010"
ALPHA_BLUE = "#4b4be6"
BETA_GREEN = "#35a035"
TOTAL_RED = "#c9504e"


def curve_df(pairs):
    return pd.DataFrame(pairs, columns=["energy", "dos"])


def draw_segments(ax, segs, color, label):
    for i, seg in enumerate(segs):
        sns.lineplot(data=curve_df(seg), x="energy", y="dos", ax=ax, color=color, linewidth=0.9,
                     estimator=None, sort=False, label=label if i == 0 else "_nolegend_")


def rug(ax, xs, h, color, alpha, label, lw=1.15):
    sns.rugplot(x=xs, ax=ax, height=h, color=color, alpha=alpha, linewidth=lw,
                expand_margins=False, label=label)


single_data = {
    "B-I": (bi_dos, bi_occ, bi_virt),
    "B-III": (biii_dos, biii_occ, biii_virt),
    "D-I": (di_dos, di_occ, di_virt),
    "D-III": (diii_dos, diii_occ, diii_virt),
}
double_data = {
    "B-II": (bii_alpha, bii_beta, bii_total, bii_a_occ, bii_a_virt, bii_b_occ, bii_b_virt),
    "B-IV": (biv_alpha, biv_beta, biv_total, biv_a_occ, biv_a_virt, biv_b_occ, biv_b_virt),
    "D-II": (dii_alpha, dii_beta, dii_total, dii_a_occ, dii_a_virt, dii_b_occ, dii_b_virt),
    "D-IV": (div_alpha, div_beta, div_total, div_a_occ, div_a_virt, div_b_occ, div_b_virt),
}

for i, name in enumerate(panel_labels):
    L, T, R, B = axes_px[i]
    ax = fig.add_axes((L / W, 1 - B / H, (R - L) / W, (B - T) / H))
    ax.set_facecolor("white")
    ytop = y_tops[i]
    h = 1.0 / (ytop + 1)
    if name in single_data:
        dos, occ, virt = single_data[name]
        sns.lineplot(data=curve_df(dos), x="energy", y="dos", ax=ax, color=DOS_BLUE, linewidth=0.9,
                     estimator=None, sort=False, label=single_labels[0])
        rug(ax, occ, h, OCC_GREEN, 0.85, single_labels[1])
        rug(ax, virt, h, VIRT_RED, 0.85, single_labels[2])
    else:
        a_segs, b_segs, total, a_occ, a_virt, b_occ, b_virt = double_data[name]
        draw_segments(ax, a_segs, ALPHA_BLUE, double_labels[0])
        draw_segments(ax, b_segs, BETA_GREEN, double_labels[1])
        sns.lineplot(data=curve_df(total), x="energy", y="dos", ax=ax, color=TOTAL_RED, linewidth=0.9,
                     estimator=None, sort=False, label=double_labels[2])
        rug(ax, a_occ, h, "#3cb0a0", 0.4, double_labels[3])
        rug(ax, a_virt, h, "#c040c0", 0.5, double_labels[4])
        rug(ax, b_occ, h, "#b8c400", 0.85, double_labels[5])
        rug(ax, b_virt, h, "#1a0a1a", 0.9, double_labels[6])

    ax.set_xlim(-20, 3)
    ax.set_ylim(-1, ytop)
    ax.set_xticks(x_ticks)
    ax.set_yticks(list(range(-1, ytop + 1)))
    ax.set_xlabel("Energy (eV)", fontsize=5.8, color="#333333", labelpad=1)
    ax.set_ylabel("")
    ax.tick_params(direction="in", length=2.5, width=0.5, labelsize=5.8, pad=2,
                   top=True, right=True, colors="#333333")
    ax.tick_params(axis="x", pad=2.5)
    for sp in ax.spines.values():
        sp.set_color("#707070")
        sp.set_linewidth(0.6)
    leg = ax.legend(loc="upper right", fontsize=4.1, frameon=True, fancybox=False, framealpha=1,
                    edgecolor="#505050", borderpad=0.4, labelspacing=0.45, handlelength=1.5,
                    handletextpad=0.6, borderaxespad=0.15)
    leg.get_frame().set_linewidth(0.5)

    lx, ly = label_px[i]
    fig.text(lx / W, 1 - ly / H, name, ha="center", va="center", fontsize=17, fontweight="bold",
             family="Liberation Serif", color="#111111")

fig.savefig("out.png", dpi=100, facecolor="white")
